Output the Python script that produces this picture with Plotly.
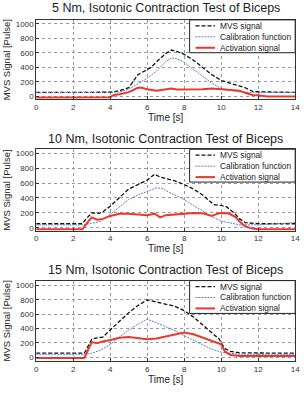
import plotly.graph_objects as go

titles = ["5 Nm, Isotonic Contraction Test of Biceps",
          "10 Nm, Isotonic Contraction Test of Biceps",
          "15 Nm, Isotonic Contraction Test of Biceps"]
series_names = ["MVS signal", "Calibration function", "Activation signal"]
x_ticks = [0, 2, 4, 6, 8, 10, 12, 14]
y_ticks = [0, 200, 400, 600, 800, 1000]

# Panel 1 (5 Nm)
p1_mvs_t = [0, 2, 4, 4.5, 5, 5.5, 5.8, 6.2, 6.6, 7.0, 7.3, 7.6, 8.0, 8.5, 9, 9.5, 10, 10.5, 11, 11.3, 11.7, 12, 14]
p1_mvs_v = [55, 55, 58, 80, 120, 300, 340, 400, 500, 590, 640, 620, 580, 500, 400, 300, 220, 180, 150, 120, 70, 65, 55]
p1_cal_t = [0, 4, 4.5, 5, 5.5, 6, 6.5, 7, 7.3, 7.6, 8, 8.5, 9, 9.5, 10, 10.5, 11, 12, 14]
p1_cal_v = [50, 50, 60, 100, 180, 250, 350, 480, 530, 520, 470, 370, 270, 180, 110, 80, 60, 55, 55]
p1_act_t = [0, 2, 2.5, 3, 4, 4.2, 4.5, 5, 5.5, 5.7, 6, 6.5, 7, 7.3, 7.6, 8, 9, 9.5, 10, 10.5, 11, 11.3, 11.7, 12, 12.5, 14]
p1_act_v = [-15, -15, -20, -15, -10, 20, 30, 60, 120, 120, 100, 80, 100, 110, 95, 95, 100, 110, 100, 90, 80, 50, 20, 15, 0, 0]

# Panel 2 (10 Nm)
p2_mvs_t = [0, 2.5, 2.7, 3.0, 3.4, 3.6, 4, 4.5, 5, 5.5, 6, 6.4, 6.7, 7, 7.5, 8, 8.5, 9, 9.3, 9.6, 10, 10.3, 10.7, 11, 11.3, 12, 14]
p2_mvs_v = [55, 55, 120, 200, 195, 215, 290, 400, 520, 580, 640, 720, 680, 660, 630, 580, 520, 440, 380, 310, 300, 280, 200, 120, 70, 55, 55]
p2_cal_t = [0, 2.5, 3, 3.5, 4, 4.5, 5, 5.5, 6, 6.5, 6.8, 7, 7.5, 8, 8.5, 9, 9.5, 10, 10.5, 11, 12, 13, 14]
p2_cal_v = [40, 40, 60, 90, 180, 280, 380, 440, 490, 535, 530, 500, 440, 380, 300, 220, 150, 90, 60, 40, 40, 55, 70]
p2_act_t = [0, 2.5, 2.7, 3.0, 3.3, 3.6, 4, 4.5, 5, 5.5, 6, 6.4, 6.7, 7, 7.5, 8, 8.5, 9, 9.5, 9.8, 10, 10.4, 10.8, 11, 11.3, 11.7, 12, 14]
p2_act_v = [-20, -20, 50, 140, 110, 120, 160, 190, 190, 180, 170, 190, 140, 170, 180, 195, 200, 195, 160, 190, 200, 195, 140, 80, 20, -10, -20, -20]

# Panel 3 (15 Nm)
p3_mvs_t = [0, 2.6, 2.8, 3.0, 3.3, 3.6, 4, 4.5, 5, 5.5, 6, 6.5, 7, 7.5, 8, 8.5, 9, 9.5, 9.9, 10, 10.2, 10.5, 11, 14]
p3_mvs_v = [55, 55, 150, 250, 270, 280, 380, 500, 620, 720, 800, 770, 740, 710, 650, 560, 450, 340, 250, 200, 120, 80, 60, 55]
p3_cal_t = [0, 2.6, 3, 3.5, 4, 4.5, 5, 5.5, 6, 6.5, 7, 7.5, 8, 8.5, 9, 9.5, 10, 10.5, 11, 14]
p3_cal_v = [40, 40, 55, 100, 180, 280, 380, 460, 530, 480, 430, 370, 300, 240, 170, 110, 70, 50, 40, 40]
p3_act_t = [0, 2.6, 2.8, 3.0, 3.3, 3.6, 4, 4.5, 5, 5.5, 6, 6.5, 7, 7.5, 8, 8.5, 9, 9.5, 9.8, 10, 10.2, 10.5, 11, 14]
p3_act_v = [-10, -10, 100, 210, 195, 220, 240, 270, 280, 270, 250, 260, 290, 320, 345, 320, 270, 230, 200, 180, 80, 30, 15, 15]

panels = [
    (p1_mvs_t, p1_mvs_v, p1_cal_t, p1_cal_v, p1_act_t, p1_act_v),
    (p2_mvs_t, p2_mvs_v, p2_cal_t, p2_cal_v, p2_act_t, p2_act_v),
    (p3_mvs_t, p3_mvs_v, p3_cal_t, p3_cal_v, p3_act_t, p3_act_v),
]

W, H = 308, 397
px_left, px_right = 35, 300
# (plot top px, plot bottom px, title y px, y range)
geo = [(20, 100, 8, [-42, 1055]), (150, 232, 140, [-40, 1053]), (282, 363, 271, [-56, 1069])]

font_family = "Liberation Sans, Arial, sans-serif"
fig = go.Figure()
styles = [dict(color="#111111", width=1.3, dash="4px,2px"),
          dict(color="#5b7fd6", width=1.0, dash="2px,1px"),
          dict(color="#e8392b", width=2.0)]


def px_x(p):
    return p / W


def px_y(p):
    return (H - p) / H


layout = dict(width=W, height=H, margin=dict(l=0, r=0, t=0, b=0),
              paper_bgcolor="white", plot_bgcolor="white", showlegend=False,
              font=dict(family=font_family, color="#222"))
annotations = []
shapes = []
for i, (data, (top, bot, ty, yr)) in enumerate(zip(panels, geo)):
    n = i + 1
    xa = "x" if n == 1 else f"x{n}"
    ya = "y" if n == 1 else f"y{n}"
    for k in range(3):
        fig.add_trace(go.Scatter(x=data[2 * k], y=data[2 * k + 1], mode="lines",
                                 name=series_names[k], line=styles[k],
                                 xaxis=xa, yaxis=ya))
    xkey = "xaxis" if n == 1 else f"xaxis{n}"
    ykey = "yaxis" if n == 1 else f"yaxis{n}"
    layout[xkey] = dict(domain=[px_left / W, px_right / W], anchor=ya, range=[0, 14],
                        tickvals=x_ticks, ticks="inside", ticklen=3, tickcolor="#333",
                        showline=True, linecolor="#333", linewidth=1, mirror=True,
                        showgrid=True, gridcolor="#999", griddash="dot", gridwidth=1,
                        zeroline=False, tickfont=dict(size=8, color="#333"),
                        title=dict(text="Time [s]", font=dict(size=10, color="#222"), standoff=2))
    layout[ykey] = dict(domain=[px_y(bot), px_y(top)], anchor=xa, range=yr,
                        tickvals=y_ticks, ticks="inside", ticklen=3, tickcolor="#333",
                        showline=True, linecolor="#333", linewidth=1, mirror=True,
                        showgrid=True, gridcolor="#999", griddash="dot", gridwidth=1,
                        zeroline=False, tickfont=dict(size=8, color="#333"),
                        title=dict(text="MVS Signal [Pulse]", font=dict(size=9.5, color="#222"), standoff=3))
    annotations.append(dict(text=titles[i], x=(px_left + px_right) / 2 / W, y=px_y(ty),
                            xref="paper", yref="paper", showarrow=False,
                            xanchor="center", yanchor="middle",
                            font=dict(size=12.5, color="#222")))
    # custom compact legend box
    lx0, lx1 = 192, 300
    ly0, ly1 = top, top + 33
    shapes.append(dict(type="rect", xref="paper", yref="paper",
                       x0=px_x(lx0), x1=px_x(lx1), y0=px_y(ly1), y1=px_y(ly0),
                       fillcolor="white", line=dict(color="#222", width=1), layer="above"))
    for k in range(3):
        ry = top + 6 + 11 * k
        shapes.append(dict(type="line", xref="paper", yref="paper",
                           x0=px_x(198), x1=px_x(218), y0=px_y(ry), y1=px_y(ry),
                           line=styles[k], layer="above"))
        annotations.append(dict(text=series_names[k], x=px_x(221), y=px_y(ry),
                                xref="paper", yref="paper", showarrow=False,
                                xanchor="left", yanchor="middle",
                                font=dict(size=8.3, color="#222")))
layout["annotations"] = annotations
layout["shapes"] = shapes
fig.update_layout(**layout)
fig.write_html("out.html")
